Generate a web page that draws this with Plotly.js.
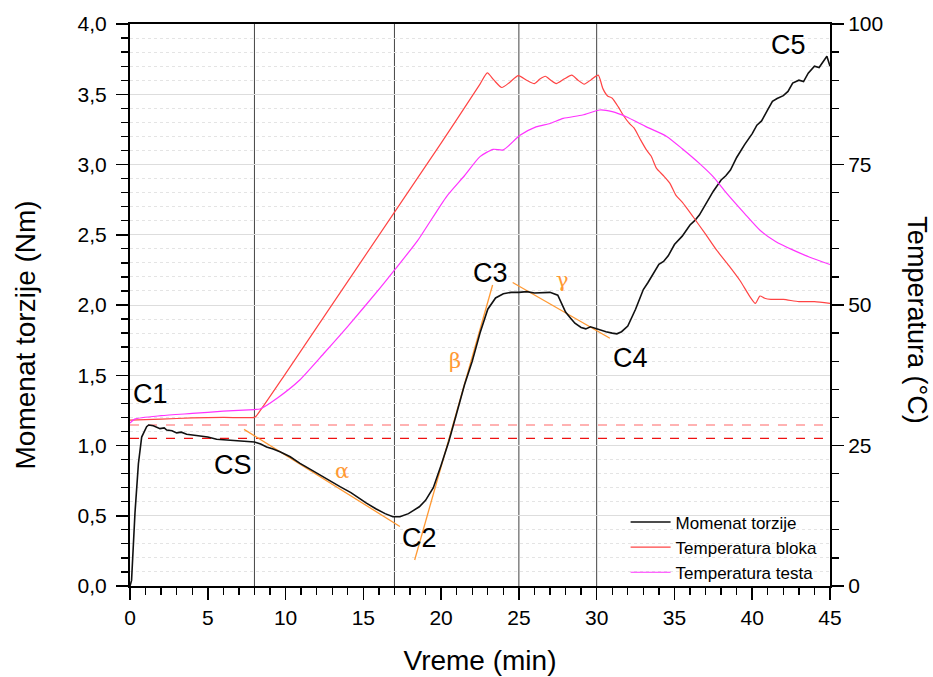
<!DOCTYPE html>
<html>
<head>
<meta charset="utf-8">
<script src="https://cdn.plot.ly/plotly-3.0.1.min.js"></script>
<style>html,body{margin:0;padding:0;background:#fff;}#chart{width:933px;height:677px;}</style>
</head>
<body>
<div id="chart"></div>
<script>
// Momenat torzije (Nm) vs time (min)
const torqueT = [0, 0.1, 0.32, 0.54, 0.75, 1.07, 1.2, 1.5, 1.93, 2.2, 2.36, 2.7, 3.0, 3.3, 3.64, 4.0, 4.5, 5.0, 5.57, 6.1, 6.64, 7.1, 7.5, 8.0, 8.4, 8.78, 9.2, 9.64, 10.3, 10.93, 11.6, 12.2, 12.9, 13.5, 14.2, 14.7, 15.2, 15.8, 16.4, 16.9, 17.35, 17.9, 18.6, 19.0, 19.5, 20.0, 20.5, 21.0, 21.5, 22.0, 22.5, 23.0, 23.5, 24.0, 24.5, 25.0, 25.5, 26.0, 26.5, 27.0, 27.5, 28.0, 28.3, 28.6, 29.0, 29.3, 29.6, 30.0, 30.3, 30.6, 31.0, 31.3, 31.6, 32.0, 32.5, 33.0, 33.3, 33.6, 34.0, 34.3, 34.6, 35.0, 35.5, 36.0, 36.3, 36.6, 37.0, 37.5, 38.0, 38.3, 38.6, 39.0, 39.5, 40.0, 40.3, 40.6, 41.0, 41.3, 41.6, 42.0, 42.3, 42.6, 43.0, 43.3, 43.6, 44.0, 44.3, 44.6, 44.8, 45.0];
const torqueV = [0.0, 0.04, 0.52, 0.87, 1.06, 1.134, 1.146, 1.14, 1.12, 1.125, 1.11, 1.105, 1.09, 1.095, 1.08, 1.075, 1.063, 1.06, 1.044, 1.04, 1.032, 1.03, 1.027, 1.025, 1.01, 0.99, 0.975, 0.956, 0.92, 0.873, 0.83, 0.79, 0.745, 0.707, 0.665, 0.625, 0.59, 0.55, 0.515, 0.493, 0.493, 0.515, 0.564, 0.61, 0.7, 0.86, 1.03, 1.23, 1.43, 1.6, 1.8, 1.97, 2.05, 2.08, 2.09, 2.09, 2.095, 2.085, 2.09, 2.09, 2.07, 1.95, 1.91, 1.87, 1.84, 1.83, 1.845, 1.83, 1.82, 1.81, 1.80, 1.795, 1.81, 1.85, 1.97, 2.11, 2.16, 2.22, 2.29, 2.31, 2.35, 2.43, 2.49, 2.57, 2.6, 2.64, 2.72, 2.81, 2.89, 2.92, 2.96, 3.05, 3.14, 3.22, 3.28, 3.31, 3.39, 3.45, 3.47, 3.49, 3.52, 3.58, 3.60, 3.59, 3.65, 3.70, 3.69, 3.74, 3.77, 3.70];

// Temperatura bloka (°C)
const blokT = [0, 2, 4, 6, 8, 8.1, 10, 15, 20, 22.5, 22.97, 23.4, 23.9, 24.4, 24.96, 25.5, 26.0, 26.35, 26.7, 27.05, 27.4, 27.9, 28.4, 28.8, 29.2, 29.65, 30.1, 30.4, 30.7, 31.0, 31.4, 31.7, 32.1, 32.4, 32.8, 33.2, 33.5, 33.85, 34.3, 34.7, 35.1, 35.5, 36.2, 37.0, 37.7, 38.5, 39.2, 39.85, 40.2, 40.5, 40.8, 41.2, 42.0, 43.0, 44.0, 45.0];
const blokV = [29.5, 29.7, 29.9, 30.0, 30.0, 30.2, 37.8, 58.3, 78.8, 89.3, 91.3, 90.0, 88.7, 89.6, 90.8, 90.0, 89.4, 90.2, 90.7, 90.0, 89.4, 90.2, 90.9, 90.0, 89.3, 90.1, 90.9, 88.5, 87.2, 86.8, 85.2, 83.8, 82.3, 81.5, 79.5, 77.6, 76.5, 74.3, 73.0, 71.7, 69.5, 68.3, 65.7, 62.6, 59.8, 57.0, 54.4, 51.5, 50.3, 51.6, 51.2, 51.0, 51.0, 50.6, 50.6, 50.3];

// Temperatura testa (°C)
const testoT = [0, 0.3, 2, 4, 6, 8, 8.36, 9.5, 10.93, 12.5, 14.0, 16.07, 17.0, 18.5, 20.35, 21.5, 22.5, 23.35, 24.0, 25.07, 26.1, 27.0, 27.85, 29.1, 30.2, 31.0, 31.9, 33.2, 34.5, 35.5, 36.6, 37.5, 38.35, 39.5, 40.5, 41.5, 42.6, 43.7, 45.0];
const testoV = [29.0, 29.7, 30.3, 30.7, 31.1, 31.4, 31.5, 33.5, 36.7, 41.5, 46.2, 53.0, 56.2, 61.5, 69.3, 73.0, 76.4, 77.7, 77.6, 80.2, 81.7, 82.3, 83.2, 83.8, 84.7, 84.4, 83.5, 81.7, 80.0, 77.8, 75.2, 72.8, 69.9, 66.3, 63.3, 61.3, 59.8, 58.5, 57.2];

// Tangent lines (alpha, beta, gamma) and reference levels
const alphaT = [7.33, 17.35], alphaV = [1.115, 0.424];
const betaT = [18.3, 23.31], betaV = [0.185, 2.142];
const gammaT = [24.6, 30.85], gammaV = [2.16, 1.763];
const levelT = [0, 45];
const levelHigh = [1.146, 1.146];
const levelLow = [1.051, 1.051];
const markerTimes = [8, 17, 25, 30];

const labels = [
  {x: 1.3, y: 1.37, text: 'C1'},
  {x: 6.6, y: 0.86, text: 'CS'},
  {x: 18.6, y: 0.34, text: 'C2'},
  {x: 23.15, y: 2.23, text: 'C3'},
  {x: 32.2, y: 1.62, text: 'C4'},
  {x: 42.3, y: 3.85, text: 'C5'}
];
const greek = [
  {x: 13.6, y: 0.82, text: 'α'},
  {x: 20.9, y: 1.6, text: 'β'},
  {x: 27.8, y: 2.18, text: 'γ'}
];
const yTitle = 'Momenat torzije (Nm)';
const y2Title = 'Temperatura (°C)';
const xTitle = 'Vreme (min)';

const FONT = 'Liberation Sans, Arial, sans-serif';
const orange = '#FF9933';

const traces = [
  {x: levelT, y: levelHigh, mode: 'lines', line: {color: '#FF9999', width: 1.3, dash: 'dash'}, showlegend: false, hoverinfo: 'skip'},
  {x: levelT, y: levelLow, mode: 'lines', line: {color: '#EE1111', width: 1.3, dash: 'dash'}, showlegend: false, hoverinfo: 'skip'},
  {x: blokT, y: blokV, yaxis: 'y2', mode: 'lines', name: 'Temperatura bloka', line: {color: '#FF4444', width: 1.2, shape: 'spline', smoothing: 0.6}, legendrank: 2},
  {x: testoT, y: testoV, yaxis: 'y2', mode: 'lines', name: 'Temperatura testa', line: {color: '#FF33FF', width: 1.2, shape: 'spline', smoothing: 0.6}, legendrank: 3},
  {x: alphaT, y: alphaV, mode: 'lines', line: {color: orange, width: 1.3}, showlegend: false},
  {x: betaT, y: betaV, mode: 'lines', line: {color: orange, width: 1.3}, showlegend: false},
  {x: gammaT, y: gammaV, mode: 'lines', line: {color: orange, width: 1.3}, showlegend: false},
  {x: torqueT, y: torqueV, mode: 'lines', name: 'Momenat torzije', line: {color: '#111111', width: 1.6}, legendrank: 1}
];

const shapes = markerTimes.map(t => ({type: 'line', xref: 'x', yref: 'paper', x0: t, x1: t, y0: 0, y1: 1, line: {color: '#444444', width: 1}, layer: 'below'}));

const annotations = labels.map(l => ({x: l.x, y: l.y, xref: 'x', yref: 'y', text: l.text, showarrow: false, font: {family: FONT, size: 27, color: '#000'}}))
  .concat(greek.map(g => ({x: g.x, y: g.y, xref: 'x', yref: 'y', text: g.text, showarrow: false, font: {family: 'DejaVu Serif, serif', size: 21, color: orange}})))
  .concat([
    {xref: 'paper', yref: 'paper', x: -0.149, y: 0.447, xanchor: 'center', yanchor: 'middle', text: yTitle, textangle: -90, showarrow: false, font: {family: FONT, size: 28, color: '#000'}},
    {xref: 'paper', yref: 'paper', x: 1.124, y: 0.473, xanchor: 'center', yanchor: 'middle', text: y2Title, textangle: 90, showarrow: false, font: {family: FONT, size: 27, color: '#000'}}
  ]);

const layout = {
  width: 933, height: 677,
  margin: {l: 130, r: 103, t: 24, b: 91},
  paper_bgcolor: '#fff', plot_bgcolor: '#fff',
  separators: ', ',
  font: {family: FONT, size: 21, color: '#000'},
  showlegend: true,
  legend: {x: 0.708, y: -0.008, xanchor: 'left', yanchor: 'bottom', bgcolor: 'rgba(0,0,0,0)', font: {family: FONT, size: 17}, traceorder: 'normal', tracegroupgap: 0, itemwidth: 40},
  xaxis: {
    range: [0, 45], tickvals: [0, 5, 10, 15, 20, 25, 30, 35, 40, 45],
    showline: true, linecolor: '#000', linewidth: 2, mirror: true,
    ticks: 'outside', ticklen: 12, tickwidth: 1.5, tickcolor: '#000',
    showgrid: false, zeroline: false,
    minor: {dtick: 1, ticks: 'outside', ticklen: 7, tickwidth: 1.3, tickcolor: '#000', showgrid: false},
    title: {text: xTitle, font: {family: FONT, size: 28}, standoff: 22},
    tickfont: {family: FONT, size: 21}
  },
  yaxis: {
    range: [0, 4], dtick: 0.5, tick0: 0, tickformat: '.1f',
    showline: true, linecolor: '#000', linewidth: 2, mirror: false,
    ticks: 'outside', ticklen: 12, tickwidth: 1.5, tickcolor: '#000', ticklabelstandoff: 5,
    showgrid: true, gridcolor: '#DDDDDD', gridwidth: 1, zeroline: false,
    minor: {dtick: 0.1, ticks: 'outside', ticklen: 7, tickwidth: 1.3, tickcolor: '#000', showgrid: true, gridcolor: '#E4E4E4', griddash: 'dot', gridwidth: 1},
    tickfont: {family: FONT, size: 21}
  },
  yaxis2: {
    overlaying: 'y', side: 'right', range: [0, 100], dtick: 25, tick0: 0,
    showline: true, linecolor: '#000', linewidth: 2,
    ticks: 'outside', ticklen: 12, tickwidth: 1.5, tickcolor: '#000',
    showgrid: false, zeroline: false,
    minor: {dtick: 5, ticks: 'outside', ticklen: 7, tickwidth: 1.3, tickcolor: '#000', showgrid: false},
    tickfont: {family: FONT, size: 21}
  },
  shapes: shapes,
  annotations: annotations
};

Plotly.newPlot('chart', traces, layout, {staticPlot: true, displayModeBar: false});
</script>
</body>
</html>
